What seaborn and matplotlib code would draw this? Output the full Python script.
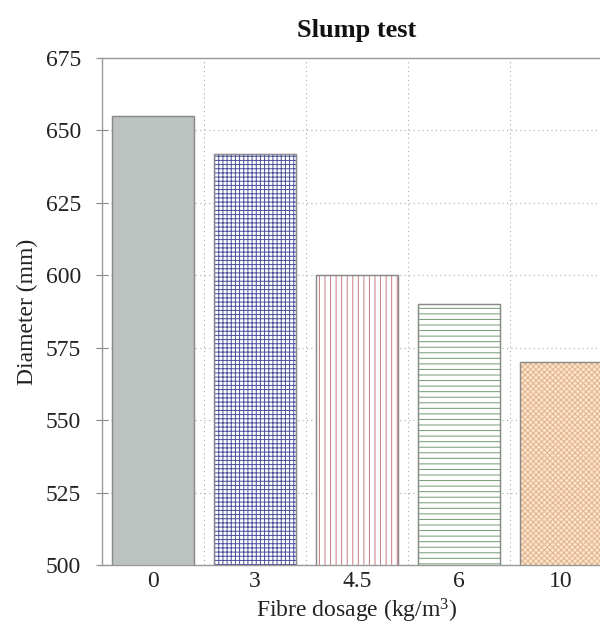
import matplotlib
matplotlib.use("Agg")
import matplotlib.pyplot as plt
import seaborn as sns
import pandas as pd
import numpy as np

categories = ["0", "3", "4.5", "6", "10"]
diameters = [655, 642, 600, 590, 570]
fills = ["#bcc2bf", "white", "white", "white", "#fde4cb"]
hatch_colors = ["#9aa09d", "#4a4f9c", "#c77b80", "#6f9c74", "#e0b48e"]
hatches = ["", "++++", "|||", "---", "xxxxxx"]
yticks = [500, 525, 550, 575, 600, 625, 650, 675]

sns.set_style("white")
plt.rcParams["font.family"] = ["Liberation Serif", "DejaVu Serif"]
plt.rcParams["mathtext.fontset"] = "custom"
plt.rcParams["mathtext.rm"] = "Liberation Serif"
plt.rcParams["mathtext.default"] = "regular"
plt.rcParams["hatch.linewidth"] = 0.7

df = pd.DataFrame({"dosage": categories, "diameter": diameters})

fig = plt.figure(figsize=(6.0, 6.33), dpi=100)
ax = fig.add_axes([0.17, 0.1074, 0.85, 0.801])

sns.barplot(data=df, x="dosage", y="diameter", order=categories, width=0.8,
            ax=ax, color="white", zorder=2)
for p, fc, hc, h in zip(ax.patches, fills, hatch_colors, hatches):
    p.set_facecolor(fc)
    p.set_edgecolor(hc)
    p.set_hatch(h)
    p.set_linewidth(0.8)

# outlines
sns.barplot(data=df, x="dosage", y="diameter", order=categories, width=0.8,
            ax=ax, fill=False, edgecolor="#8a8a8a", linewidth=1.0, zorder=3)

ax.set_ylim(500, 675)
ax.set_xlim(-0.5, 4.5)
ax.set_yticks(yticks)
ax.set_xticks(np.arange(0.5, 4.5, 1.0), minor=True)
ax.grid(True, axis="y", which="major", linestyle=(0, (1, 3)), color="#aaaaaa", linewidth=0.8, zorder=0)
ax.grid(True, axis="x", which="minor", linestyle=(0, (1, 3)), color="#aaaaaa", linewidth=0.8, zorder=0)
ax.grid(False, axis="x", which="major")
ax.set_axisbelow(True)

for s in ["left", "bottom", "top", "right"]:
    ax.spines[s].set_color("#999999")
    ax.spines[s].set_linewidth(1.0)

ax.tick_params(axis="y", which="major", direction="inout", length=8, width=0.8,
               color="#888888", labelsize=17, pad=11, left=True, labelcolor="#222222")
ax.tick_params(axis="x", which="major", length=0, labelsize=17, pad=4, labelcolor="#222222")
ax.tick_params(axis="x", which="minor", length=0)

ax.set_xlabel("Fibre dosage (kg/m$^{3}$)", fontsize=17, labelpad=4, color="#222222")
ax.set_ylabel("Diameter (mm)", fontsize=17, labelpad=6, color="#222222")
fig.text(0.595, 0.952, "Slump test", ha="center", va="center", fontsize=19,
         fontweight="bold", color="#111111")

fig.savefig("out.png", dpi=100)
